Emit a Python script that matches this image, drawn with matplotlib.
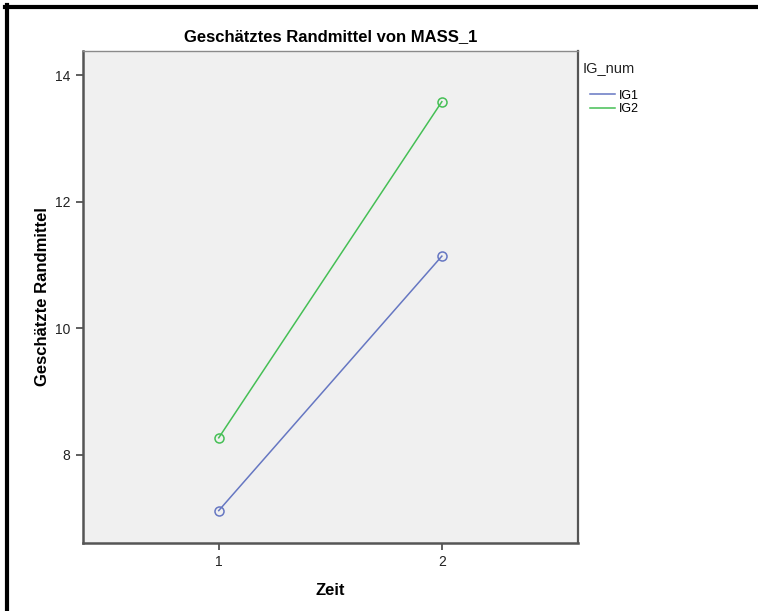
import matplotlib
matplotlib.use("Agg")
from matplotlib import pyplot as plt
from matplotlib.lines import Line2D

plt.rcParams['font.family'] = ['Liberation Sans', 'DejaVu Sans']

zeit = [1, 2]
groups = ['IG1', 'IG2']
ig1 = [7.12, 11.14]
ig2 = [8.27, 13.58]
colors = ['#6677c2', '#45bf55']

fig = plt.figure(figsize=(7.58, 6.11), dpi=100)
ax = fig.add_axes([0.109, 0.112, 0.6535, 0.8045])
ax.set_facecolor('#f0f0f0')

for name, vals, col in zip(groups, [ig1, ig2], colors):
    ax.plot(zeit, vals, color=col, linewidth=1.1, marker='o', markersize=6.5,
            markerfacecolor='none', markeredgecolor=col, markeredgewidth=1.1, label=name)

ax.set_xlim(0.39, 2.61)
ax.set_ylim(6.615, 14.38)
ax.set_xticks(zeit)
ax.set_yticks([8, 10, 12, 14])
ax.tick_params(direction='out', length=5, width=1.2, color='#444444',
               labelsize=10, labelcolor='#222222', pad=4)

for s in ['left', 'bottom']:
    ax.spines[s].set_color('#555555')
    ax.spines[s].set_linewidth(1.8)
ax.spines['top'].set_color('#8a8a8a')
ax.spines['top'].set_linewidth(1.0)
ax.spines['right'].set_color('#555555')
ax.spines['right'].set_linewidth(1.6)

ax.set_title('Geschätztes Randmittel von MASS_1', fontsize=12, fontweight='bold', pad=7)
ax.set_xlabel('Zeit', fontsize=12, fontweight='bold', labelpad=10)
ax.set_ylabel('Geschätzte Randmittel', fontsize=12, fontweight='bold', labelpad=3)

# legend: title as text, entries via legend
fig.text(0.769, 0.889, 'IG_num', fontsize=10.5, ha='left', va='center', color='#222222')
leg = fig.legend(loc='upper left', bbox_to_anchor=(0.778, 0.853),
                 bbox_transform=fig.transFigure, frameon=False, fontsize=9,
                 handlelength=2.0, handletextpad=0.3, labelspacing=0.12,
                 borderpad=0, borderaxespad=0)
for h in leg.legend_handles:
    h.set_marker('')

# black frame on top and left edges of the image
fig.add_artist(Line2D([0.007, 1.0], [0.989, 0.989], color='black', linewidth=3,
                      transform=fig.transFigure))
fig.add_artist(Line2D([0.0095, 0.0095], [0.0, 0.991], color='black', linewidth=3,
                      transform=fig.transFigure))

fig.savefig('out.png', dpi=100)
